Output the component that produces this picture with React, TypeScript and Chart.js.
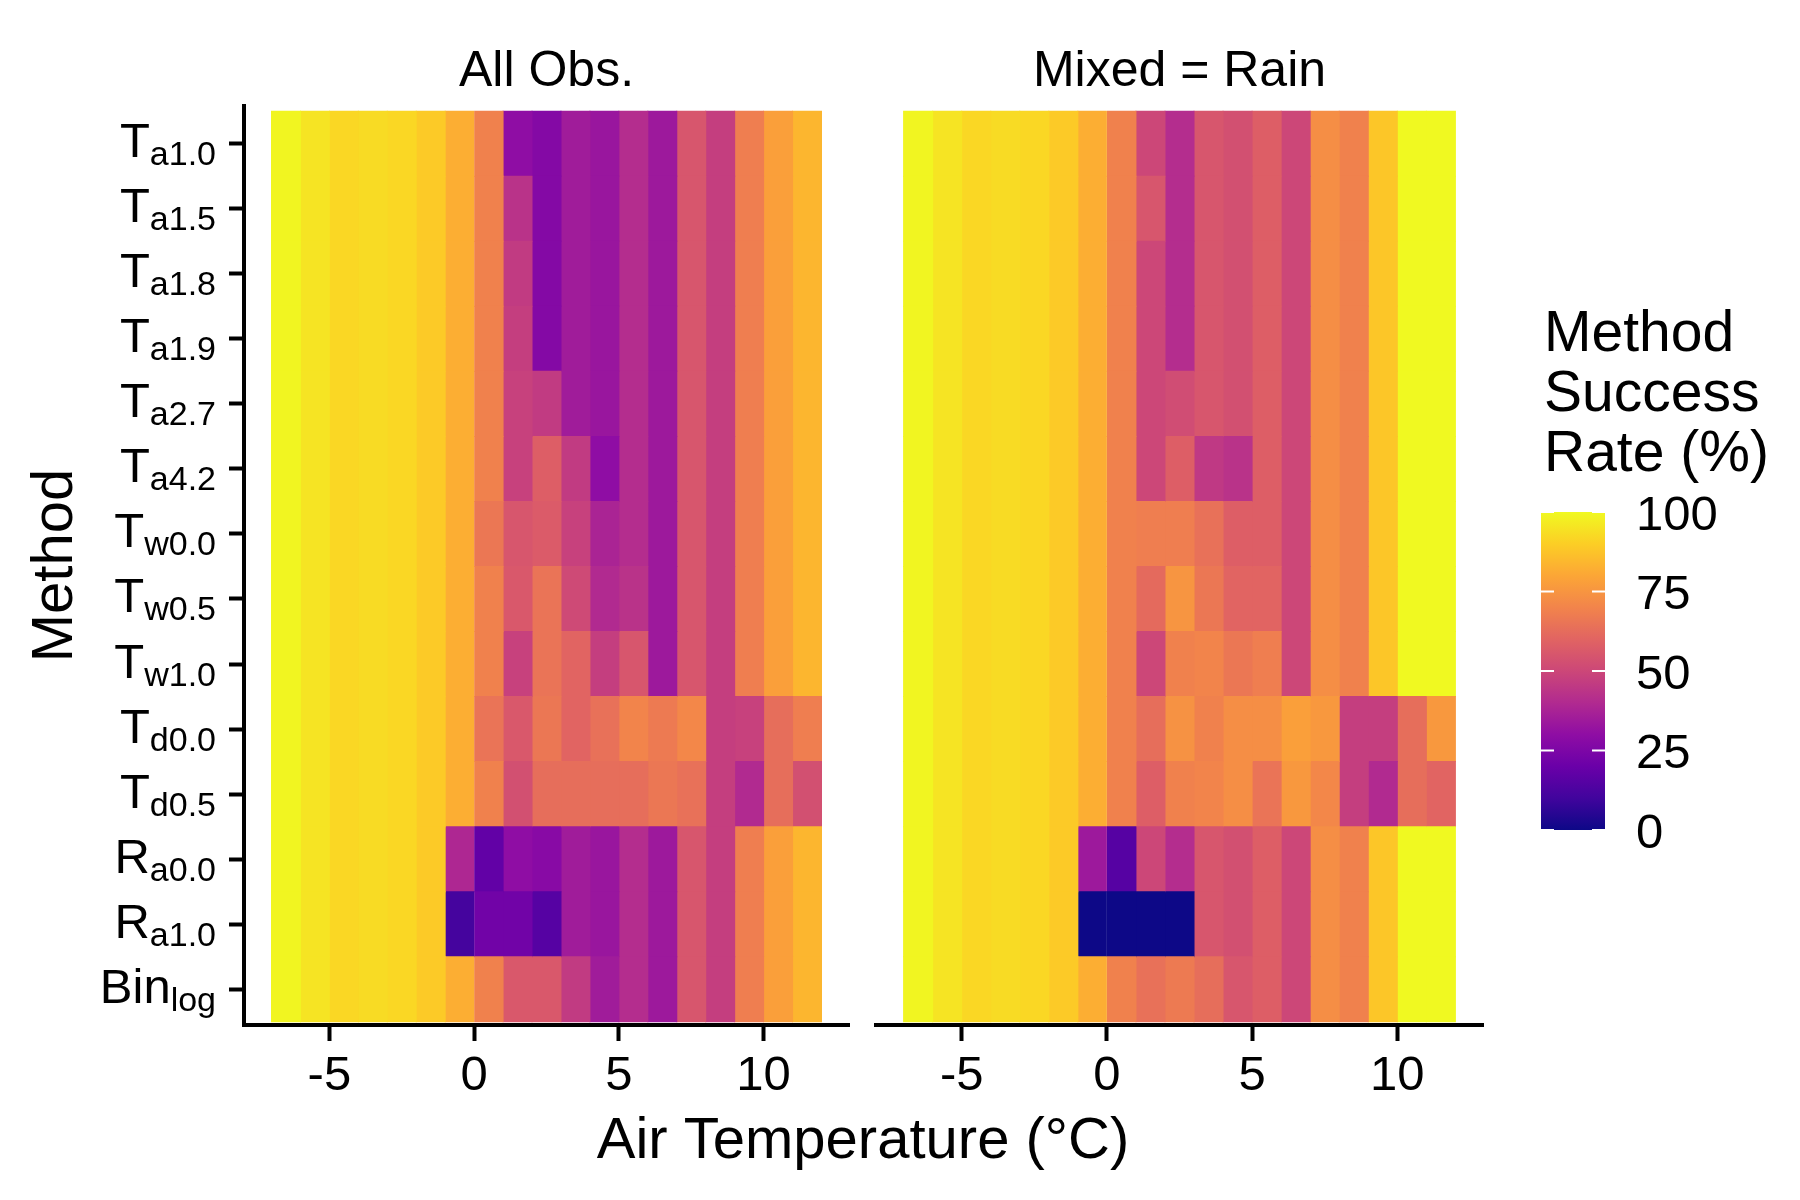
import React, { useEffect, useRef } from "react";
import { Chart, registerables } from "chart.js";

Chart.register(...registerables);

// ---------------- data ----------------
// left edges of the 1 °C air-temperature bins
const temperatureBins = [-7, -6, -5, -4, -3, -2, -1, 0, 1, 2, 3, 4, 5, 6, 7, 8, 9, 10, 11];
const methodMain = ["T", "T", "T", "T", "T", "T", "T", "T", "T", "T", "T", "R", "R", "Bin"];
const methodSub = ["a1.0", "a1.5", "a1.8", "a1.9", "a2.7", "a4.2", "w0.0", "w0.5", "w1.0", "d0.0", "d0.5", "a0.0", "a1.0", "log"];
const panelTitles = ["All Obs.", "Mixed = Rain"];
const xTickValues = [-5, 0, 5, 10];
const legendTickValues = [0, 25, 50, 75, 100];
const xAxisTitle = "Air Temperature (°C)";
const yAxisTitle = "Method";
const legendTitleLines = ["Method", "Success", "Rate (%)"];

// success rate (%) per method (rows) and temperature bin (columns)
const allObsRates = [
  [99, 95, 92, 93, 92, 89, 82, 69, 30, 27, 35, 33, 41, 34, 55, 47, 68, 78, 84], // Ta1.0
  [99, 95, 92, 93, 92, 89, 82, 69, 43, 27, 35, 33, 41, 34, 55, 47, 68, 78, 84], // Ta1.5
  [99, 95, 92, 93, 92, 89, 82, 69, 46, 27, 35, 33, 41, 34, 55, 47, 68, 78, 84], // Ta1.8
  [99, 95, 92, 93, 92, 89, 82, 69, 47, 27, 35, 33, 41, 34, 55, 47, 68, 78, 84], // Ta1.9
  [99, 95, 92, 93, 92, 89, 82, 69, 48, 46, 35, 33, 41, 34, 55, 47, 68, 78, 84], // Ta2.7
  [99, 95, 92, 93, 92, 89, 82, 69, 48, 58, 46, 30, 41, 34, 55, 47, 68, 78, 84], // Ta4.2
  [99, 95, 92, 93, 92, 89, 82, 66, 55, 57, 48, 38, 41, 34, 55, 47, 68, 78, 84], // Tw0.0
  [99, 95, 92, 93, 92, 89, 82, 69, 56, 65, 51, 40, 43, 34, 55, 47, 68, 78, 84], // Tw0.5
  [99, 95, 92, 93, 92, 89, 82, 69, 48, 65, 60, 47, 55, 34, 55, 47, 68, 78, 84], // Tw1.0
  [99, 95, 92, 93, 92, 89, 82, 65, 56, 66, 60, 64, 70, 67, 71, 47, 48, 63, 68], // Td0.0
  [99, 95, 92, 93, 92, 89, 82, 69, 53, 63, 63, 63, 63, 66, 64, 47, 40, 63, 53], // Td0.5
  [99, 95, 92, 93, 92, 89, 39, 18, 30, 28, 35, 33, 41, 34, 55, 47, 68, 78, 84], // Ra0.0
  [99, 95, 92, 93, 92, 89, 11, 22, 22, 15, 35, 33, 41, 34, 55, 47, 68, 78, 84], // Ra1.0
  [99, 95, 92, 93, 92, 89, 82, 69, 56, 56, 46, 35, 41, 34, 55, 47, 68, 78, 84], // Binlog
];

const mixedRainRates = [
  [99, 95, 92, 93, 92, 89, 82, 69, 50, 41, 55, 53, 58, 50, 73, 69, 88, 100, 100], // Ta1.0
  [99, 95, 92, 93, 92, 89, 82, 69, 55, 41, 55, 53, 58, 50, 73, 69, 88, 100, 100], // Ta1.5
  [99, 95, 92, 93, 92, 89, 82, 69, 50, 41, 55, 53, 58, 50, 73, 69, 88, 100, 100], // Ta1.8
  [99, 95, 92, 93, 92, 89, 82, 69, 50, 41, 55, 53, 58, 50, 73, 69, 88, 100, 100], // Ta1.9
  [99, 95, 92, 93, 92, 89, 82, 69, 50, 52, 55, 53, 58, 50, 73, 69, 88, 100, 100], // Ta2.7
  [99, 95, 92, 93, 92, 89, 82, 69, 50, 58, 45, 43, 58, 50, 73, 69, 88, 100, 100], // Ta4.2
  [99, 95, 92, 93, 92, 89, 82, 69, 68, 68, 64, 58, 58, 50, 73, 69, 88, 100, 100], // Tw0.0
  [99, 95, 92, 93, 92, 89, 82, 69, 62, 75, 66, 60, 60, 50, 73, 69, 88, 100, 100], // Tw0.5
  [99, 95, 92, 93, 92, 89, 82, 69, 50, 69, 70, 66, 68, 50, 73, 69, 88, 100, 100], // Tw1.0
  [99, 95, 92, 93, 92, 89, 82, 69, 63, 74, 69, 73, 73, 78, 76, 47, 47, 63, 76], // Td0.0
  [99, 95, 92, 93, 92, 89, 82, 69, 58, 69, 70, 73, 65, 76, 71, 47, 40, 63, 60], // Td0.5
  [99, 95, 92, 93, 92, 89, 34, 15, 50, 41, 55, 53, 58, 50, 73, 69, 88, 100, 100], // Ra0.0
  [99, 95, 92, 93, 92, 89, 0, 0, 0, 0, 55, 53, 58, 50, 73, 69, 88, 100, 100], // Ra1.0
  [99, 95, 92, 93, 92, 89, 82, 69, 64, 67, 63, 55, 58, 50, 73, 69, 88, 100, 100], // Binlog
];

// ---------------- styling ----------------
const FONT = "'Liberation Sans', Arial, Helvetica, sans-serif";
const PLASMA = [
  "#0d0887", "#41049d", "#6a00a8", "#8f0da4", "#b12a90", "#cc4778",
  "#e16462", "#f2844b", "#fca636", "#fcce25", "#f0f921",
];

function hexToRgb(h: string) {
  return [parseInt(h.slice(1, 3), 16), parseInt(h.slice(3, 5), 16), parseInt(h.slice(5, 7), 16)];
}

function plasmaColor(v: number) {
  const t = Math.max(0, Math.min(1, v / 100)) * (PLASMA.length - 1);
  const i = Math.min(PLASMA.length - 2, Math.floor(t));
  const f = t - i;
  const a = hexToRgb(PLASMA[i]);
  const b = hexToRgb(PLASMA[i + 1]);
  const c = a.map((x, k) => Math.round(x + (b[k] - x) * f));
  return `rgb(${c[0]},${c[1]},${c[2]})`;
}

const PLOT_TOP = 106;
const X_SCALE_HEIGHT = 175;
const CANVAS_W = 1800;
const CANVAS_H = 1200;

function makeTextPlugin(panelIndex: number) {
  return {
    id: "panelText" + panelIndex,
    afterDraw(chart: any) {
      const ctx = chart.ctx as CanvasRenderingContext2D;
      const area = chart.chartArea;
      const xs = chart.scales.x;
      const ys = chart.scales.y;
      ctx.save();
      ctx.fillStyle = "#000";
      ctx.textBaseline = "alphabetic";

      // facet strip title
      ctx.font = `50px ${FONT}`;
      ctx.textAlign = "center";
      ctx.fillText(panelTitles[panelIndex], (area.left + area.right) / 2, 86);

      // x tick labels
      ctx.font = `49px ${FONT}`;
      xTickValues.forEach((v) => {
        ctx.fillText(String(v), xs.getPixelForValue(v), 1090);
      });

      if (panelIndex === 0) {
        // y tick labels with subscripts
        const rightEdge = 216;
        methodMain.forEach((m, i) => {
          const y = ys.getPixelForValue(i);
          ctx.textAlign = "right";
          ctx.font = `34px ${FONT}`;
          const subW = ctx.measureText(methodSub[i]).width;
          ctx.fillText(methodSub[i], rightEdge, y + 21.5);
          ctx.font = `49px ${FONT}`;
          ctx.fillText(m, rightEdge - subW, y + 13.5);
        });
        // y axis title
        ctx.save();
        ctx.translate(72, (area.top + area.bottom) / 2);
        ctx.rotate(-Math.PI / 2);
        ctx.textAlign = "center";
        ctx.font = `58px ${FONT}`;
        ctx.fillText(yAxisTitle, 0, 0);
        ctx.restore();
      } else {
        // shared x axis title
        ctx.textAlign = "center";
        ctx.font = `58px ${FONT}`;
        ctx.fillText(xAxisTitle, 863, 1158);

        // colour bar legend
        const cbX = 1541, cbY = 512, cbW = 64, cbH = 318;
        const grad = ctx.createLinearGradient(0, cbY + cbH, 0, cbY);
        PLASMA.forEach((c, k) => grad.addColorStop(k / (PLASMA.length - 1), c));
        ctx.fillStyle = grad;
        ctx.fillRect(cbX, cbY, cbW, cbH);
        ctx.strokeStyle = "#ffffff";
        ctx.lineWidth = 2;
        legendTickValues.forEach((v) => {
          const y = cbY + cbH - (v / 100) * cbH;
          ctx.beginPath();
          ctx.moveTo(cbX, y);
          ctx.lineTo(cbX + 13, y);
          ctx.moveTo(cbX + cbW - 13, y);
          ctx.lineTo(cbX + cbW, y);
          ctx.stroke();
        });
        ctx.fillStyle = "#000";
        ctx.textAlign = "left";
        ctx.font = `49px ${FONT}`;
        legendTickValues.forEach((v) => {
          const y = cbY + cbH - (v / 100) * cbH;
          ctx.fillText(String(v), 1636, y + 17.5);
        });
        ctx.font = `57px ${FONT}`;
        legendTitleLines.forEach((line, k) => {
          ctx.fillText(line, 1544, 351 + k * 60);
        });
      }
      ctx.restore();
    },
  };
}

function buildConfig(panelIndex: number): any {
  const rates = panelIndex === 0 ? allObsRates : mixedRainRates;
  const datasets = temperatureBins.map((t, j) => ({
    label: String(t),
    data: rates.map((_row, i) => ({ x: [t, t + 1], y: i })),
    backgroundColor: rates.map((row) => plasmaColor(row[j])),
    borderWidth: 0,
    grouped: false,
    barPercentage: 1,
    categoryPercentage: 1,
    inflateAmount: 0.5,
  }));

  const left = panelIndex === 0 ? 0 : 876;
  const right = panelIndex === 0 ? CANVAS_W - 849 : CANVAS_W - 1483;

  return {
    type: "bar",
    data: { datasets },
    options: {
      indexAxis: "y",
      responsive: false,
      animation: false,
      devicePixelRatio: 1,
      events: [],
      layout: { padding: { left, right, top: PLOT_TOP, bottom: 0 } },
      plugins: { legend: { display: false }, tooltip: { enabled: false } },
      scales: {
        x: {
          type: "linear",
          position: "bottom",
          offset: false,
          min: -7.95,
          max: 12.95,
          afterBuildTicks: (s: any) => {
            s.ticks = xTickValues.map((v) => ({ value: v }));
          },
          afterFit: (s: any) => {
            s.height = X_SCALE_HEIGHT;
          },
          ticks: { display: false },
          grid: {
            display: true,
            offset: false,
            drawOnChartArea: false,
            drawTicks: true,
            tickLength: 16,
            tickWidth: 4,
            tickColor: "#000",
          },
          border: { display: true, color: "#000", width: 4 },
        },
        y: {
          type: "linear",
          display: panelIndex === 0,
          offset: false,
          reverse: true,
          min: -0.58,
          max: 13.55,
          afterBuildTicks: (s: any) => {
            s.ticks = methodMain.map((_m, i) => ({ value: i }));
          },
          afterFit: (s: any) => {
            if (panelIndex === 0) s.width = 244;
          },
          ticks: { display: false },
          grid: {
            display: true,
            offset: false,
            drawOnChartArea: false,
            drawTicks: true,
            tickLength: 15,
            tickWidth: 4,
            tickColor: "#000",
          },
          border: { display: true, color: "#000", width: 4 },
        },
      },
    },
    plugins: [makeTextPlugin(panelIndex)],
  };
}

function PanelChart({ panelIndex }: { panelIndex: number }) {
  const ref = useRef<HTMLCanvasElement | null>(null);
  useEffect(() => {
    if (!ref.current) return;
    const chart = new Chart(ref.current, buildConfig(panelIndex));
    return () => chart.destroy();
  }, [panelIndex]);
  return (
    <canvas
      ref={ref}
      width={CANVAS_W}
      height={CANVAS_H}
      style={{ position: "absolute", left: 0, top: 0, width: CANVAS_W, height: CANVAS_H }}
    />
  );
}

export default function App() {
  return (
    <div
      style={{
        position: "absolute",
        left: 0,
        top: 0,
        width: CANVAS_W,
        height: CANVAS_H,
        background: "#ffffff",
        overflow: "hidden",
      }}
    >
      <PanelChart panelIndex={0} />
      <PanelChart panelIndex={1} />
    </div>
  );
}
